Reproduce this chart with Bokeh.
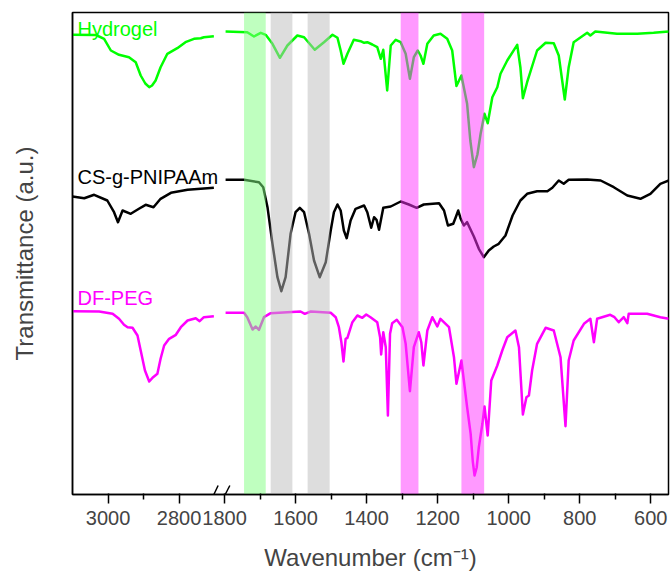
from bokeh.plotting import figure
from bokeh.models import Range1d, FixedTicker, Label
from bokeh.embed import file_html
from bokeh.resources import INLINE

# ---------------- broken wavenumber axis ----------------
LEFT_START, LEFT_END = 3100, 2700
RIGHT_START, RIGHT_END = 1800, 550
GAP = 28

def to_axis(w):
    if w > RIGHT_START:
        return LEFT_START - w
    return (LEFT_START - LEFT_END) + GAP + (RIGHT_START - w)

major_ticks = [3000, 2800, 1800, 1600, 1400, 1200, 1000, 800, 600]
minor_ticks = [2900, 1700, 1500, 1300, 1100, 900, 700]

# ---------------- data (transmittance, a.u.) ----------------
hyd_left_wn = [3100, 3034, 3011, 2992, 2969, 2941, 2922, 2908, 2895, 2884, 2876, 2866, 2852, 2833, 2805, 2782, 2758, 2739, 2730, 2702]
hyd_left_t = [459.7, 459.5, 455.7, 444, 439.7, 437.3, 432.3, 419, 411, 407.3, 409, 414, 427.3, 440.7, 446.3, 452.3, 455.7, 456.3, 457.3, 458.3]
hyd_right_wn = [1797, 1736, 1717, 1698, 1684, 1665, 1644, 1623, 1595, 1576, 1546, 1520, 1496, 1482, 1473, 1465, 1454, 1436, 1417, 1407, 1398, 1384, 1370, 1360, 1353, 1342, 1332, 1318, 1304, 1290, 1278, 1267, 1256, 1248, 1240, 1229, 1211, 1192, 1173, 1159, 1147, 1133, 1117, 1108, 1098, 1088, 1079, 1068, 1059, 1046, 1032, 1023, 1004, 976, 967, 960, 948, 920, 896, 873, 859, 842, 831, 817, 779, 770, 756, 695, 638, 592, 549]
hyd_right_t = [463, 462.3, 458, 461.7, 459.7, 450.7, 436.7, 449, 459, 457.3, 444.7, 452.3, 459.7, 456.7, 444, 430.7, 440.7, 454.7, 453.3, 451.7, 452.3, 450, 447.3, 435.7, 444.7, 404, 449, 454.7, 452.3, 440.7, 415.7, 437.3, 444, 439, 430.7, 450.7, 459, 460.7, 455.7, 444, 408.5, 419, 390.7, 354, 327.3, 340, 360.7, 380.7, 371.3, 397.3, 407.3, 420.7, 434, 449.7, 427.3, 396.3, 412.3, 444, 451.7, 451.3, 439, 395, 427.3, 452.3, 461.7, 459, 463, 460.7, 460.7, 461.7, 463]

cs_left_wn = [3100, 3067, 3039, 3002, 2983, 2972, 2959, 2936, 2913, 2894, 2872, 2852, 2823, 2776, 2702]
cs_left_t = [298, 296.3, 299.7, 294, 282.3, 272.3, 284, 280.7, 285.7, 289.7, 287.3, 295.7, 301.7, 304.7, 306.7]
cs_right_wn = [1797, 1745, 1703, 1691, 1679, 1665, 1651, 1640, 1628, 1614, 1600, 1588, 1576, 1562, 1548, 1532, 1515, 1501, 1492, 1482, 1473, 1464, 1456, 1445, 1431, 1407, 1398, 1387, 1379, 1372, 1365, 1353, 1332, 1304, 1281, 1259, 1239, 1196, 1182, 1171, 1156, 1149, 1142, 1135, 1126, 1117, 1098, 1084, 1070, 1056, 1042, 1028, 1009, 989, 967, 948, 920, 891, 877, 859, 845, 831, 779, 741, 704, 666, 629, 601, 573, 549]
cs_right_t = [314.7, 314.7, 312.3, 307.3, 287.3, 250.7, 217.3, 203.3, 217.3, 260.7, 282.3, 286.7, 282.3, 260.7, 234, 217.3, 232.3, 264, 282.3, 290, 284, 264, 256.3, 274, 285.7, 289, 282.3, 266.7, 277.3, 274.7, 264.7, 286.7, 288, 293, 290, 286.7, 290, 291.3, 284, 269, 270.7, 277.3, 284, 275.7, 269, 272.3, 258, 245.7, 237.3, 244, 248, 250.7, 259, 279, 294, 300.7, 303.3, 303.3, 306.7, 314, 310.7, 314.7, 315, 314, 307.3, 299, 295.7, 300.7, 310.7, 314]

peg_left_wn = [3098, 3025, 2987, 2969, 2955, 2945, 2931, 2917, 2908, 2896, 2884, 2873, 2861, 2852, 2842, 2828, 2809, 2795, 2776, 2753, 2742, 2730, 2702]
peg_left_t = [183.3, 183, 180.7, 175.7, 169.7, 167.3, 166.7, 159, 144, 124, 113, 117.3, 120.7, 135.7, 149, 155.7, 159.7, 167.3, 174, 176.3, 173.3, 177.3, 178.3]
peg_right_wn = [1797, 1745, 1736, 1721, 1712, 1703, 1689, 1670, 1623, 1586, 1574, 1557, 1501, 1487, 1478, 1471, 1465, 1459, 1454, 1440, 1426, 1412, 1401, 1389, 1370, 1362, 1359, 1353, 1346, 1340, 1334, 1328, 1315, 1299, 1290, 1278, 1267, 1253, 1246, 1240, 1229, 1215, 1201, 1192, 1168, 1154, 1147, 1133, 1117, 1107, 1101, 1096, 1090, 1084, 1074, 1068, 1059, 1049, 1032, 1018, 1004, 981, 971, 960, 950, 943, 934, 920, 896, 873, 854, 840, 831, 817, 788, 770, 760, 751, 714, 702, 690, 676, 666, 662, 610, 573, 549]
peg_right_t = [181.7, 181.7, 177.3, 165, 168, 164.7, 177.3, 181.3, 182.3, 183, 180.7, 183, 181.7, 177.3, 167.3, 152.3, 133, 155.7, 156.7, 172.3, 179, 176.7, 180, 177.3, 172.3, 157.3, 140, 162.3, 147.3, 79, 160.7, 171.3, 174.7, 167.3, 150.7, 103.3, 147.3, 162.3, 152.3, 129, 164, 177.3, 168, 175.7, 167.3, 137.3, 110.7, 134, 87.3, 60.7, 33, 19, 27, 47.3, 70.7, 88, 59, 114, 129, 144, 157.3, 164, 147.3, 80, 97.3, 99, 124, 150.7, 166.7, 164, 137.3, 68.3, 134, 154, 170.7, 175.7, 152.3, 175.7, 179.7, 177.3, 172.3, 177.3, 171.3, 180.7, 180.7, 177.3, 175.7]

series_names = ["Hydrogel", "CS-g-PNIPAAm", "DF-PEG"]
series_colors = ["#00ff00", "#000000", "#ff00ff"]
label_wn = [3086, 3086, 3086]
label_t = [466, 317.5, 197]

# highlighted bands (wavenumber from, to)
band_from = [1745, 1670, 1566, 1304, 1133]
band_to = [1684, 1609, 1504, 1254, 1069]
band_colors = ["#80ff80", "#bbbbbb", "#bbbbbb", "#ff33ff", "#ff33ff"]

FONT = "Liberation Sans"
Y_MIN, Y_MAX = 0, 482

p = figure(frame_width=596, frame_height=482, output_backend="svg", toolbar_location=None,
           x_range=Range1d(0, to_axis(RIGHT_END)), y_range=Range1d(Y_MIN, Y_MAX),
           min_border_left=72, min_border_top=12, min_border_right=2, min_border_bottom=70)
p.background_fill_color = "white"
p.border_fill_color = "white"
p.xgrid.visible = False
p.ygrid.visible = False
p.outline_line_color = "black"
p.outline_line_width = 1.5
p.outline_line_alpha = 1

series = [
    (hyd_left_wn, hyd_left_t, hyd_right_wn, hyd_right_t),
    (cs_left_wn, cs_left_t, cs_right_wn, cs_right_t),
    (peg_left_wn, peg_left_t, peg_right_wn, peg_right_t),
]
for (lw, lt, rw, rt), col in zip(series, series_colors):
    p.line([to_axis(w) for w in lw], lt, line_color=col, line_width=2.5, line_join="round")
    p.line([to_axis(w) for w in rw], rt, line_color=col, line_width=2.5, line_join="round")

# translucent bands drawn over the spectra
p.quad(left=[to_axis(a) for a in band_from], right=[to_axis(b) for b in band_to],
       bottom=[Y_MIN] * len(band_from), top=[Y_MAX] * len(band_from),
       fill_color=band_colors, fill_alpha=0.5, line_color=None)

for name, col, lw_, lt_ in zip(series_names, series_colors, label_wn, label_t):
    p.add_layout(Label(x=to_axis(lw_), y=lt_, text=name, text_color=col, text_font=FONT,
                       text_font_size="20px", text_baseline="alphabetic", text_align="left"))

# axis break marks (two slashes at the break)
b_left, b_right = to_axis(LEFT_END), to_axis(RIGHT_START)
p.segment(x0=[b_left - 2, b_right + 2], y0=[Y_MIN, Y_MIN],
          x1=[b_left + 10, b_right + 15], y1=[Y_MIN + 9, Y_MIN + 9],
          line_color="black", line_width=1.5)

xa = p.xaxis[0]
xa.ticker = FixedTicker(ticks=[to_axis(t) for t in major_ticks],
                        minor_ticks=[to_axis(t) for t in minor_ticks])
xa.major_label_overrides = {to_axis(t): str(t) for t in major_ticks}
xa.axis_label = "Wavenumber (cm\u207b\u00b9)"
xa.axis_label_text_font = FONT
xa.axis_label_text_font_size = "24px"
xa.axis_label_text_font_style = "normal"
xa.axis_label_standoff = 16
xa.major_label_text_font = FONT
xa.major_label_text_font_size = "20px"
xa.major_label_standoff = 7
xa.major_tick_out = 9
xa.major_tick_in = 1
xa.minor_tick_out = 5
xa.minor_tick_in = 1
xa.axis_line_width = 1.5
xa.axis_line_color = "black"
xa.major_tick_line_color = "black"
xa.minor_tick_line_color = "black"
xa.major_tick_line_width = 1.5
xa.minor_tick_line_width = 1.5

ya = p.yaxis[0]
ya.ticker = FixedTicker(ticks=[])
ya.major_tick_line_color = None
ya.minor_tick_line_color = None
ya.major_label_text_font_size = "0px"
ya.axis_label = "Transmittance (a.u.)"
ya.axis_label_text_font = FONT
ya.axis_label_text_font_size = "24px"
ya.axis_label_text_font_style = "normal"
ya.axis_label_standoff = 35
ya.axis_line_width = 1.5
ya.axis_line_color = "black"

open("out.html", "w").write(file_html(p, INLINE))
